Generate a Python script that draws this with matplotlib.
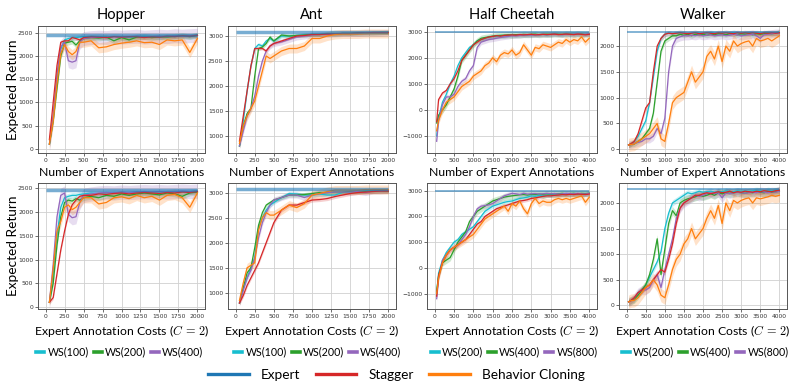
import matplotlib
matplotlib.use("Agg")
import matplotlib.pyplot as plt
from matplotlib.lines import Line2D
import numpy as np

# ---------------- data ----------------
x_short = [50, 100, 150, 200, 250, 300, 350, 400, 450, 500, 600, 700, 800, 900,
           1000, 1100, 1200, 1300, 1400, 1500, 1600, 1700, 1800, 1900, 2000]
x_long = [50] + list(range(100, 4001, 100))

expert_hopper = 2460
expert_ant = 3080
expert_cheetah = 3000
expert_walker = 2265

# Hopper, number of annotations
hop_a_ws1 = [100, 700, 1500, 2150, 2350, 2380, 2400, 2400, 2410, 2420, 2410, 2420, 2400, 2420, 2410, 2400, 2420, 2430, 2420, 2410, 2430, 2420, 2440, 2430, 2450]
hop_a_ws2 = [100, 600, 1300, 2000, 2280, 2300, 2320, 2240, 2330, 2380, 2400, 2390, 2410, 2330, 2400, 2350, 2410, 2420, 2400, 2420, 2410, 2430, 2440, 2420, 2450]
hop_a_ws3 = [100, 700, 1600, 2200, 2300, 1900, 1870, 1900, 2300, 2380, 2400, 2410, 2400, 2420, 2410, 2420, 2430, 2410, 2420, 2430, 2420, 2440, 2430, 2440, 2450]
hop_a_stag = [200, 1000, 1800, 2300, 2330, 2330, 2400, 2380, 2350, 2400, 2420, 2410, 2400, 2420, 2410, 2420, 2420, 2400, 2420, 2410, 2430, 2420, 2440, 2430, 2450]
hop_a_bc = [100, 600, 1400, 2050, 2250, 2100, 2030, 2100, 2300, 2300, 2330, 2180, 2200, 2250, 2280, 2300, 2330, 2290, 2300, 2250, 2350, 2330, 2350, 2080, 2380]

# Hopper, annotation costs
hop_b_ws1 = [100, 700, 1500, 2100, 2300, 2330, 2350, 2350, 2370, 2380, 2400, 2390, 2400, 2410, 2400, 2410, 2420, 2400, 2410, 2420, 2410, 2430, 2420, 2430, 2440]
hop_b_ws2 = [100, 500, 1300, 1900, 2200, 2250, 2230, 2280, 2250, 2300, 2330, 2300, 2350, 2330, 2380, 2350, 2380, 2400, 2380, 2360, 2400, 2380, 2330, 2400, 2420]
hop_b_ws3 = [100, 900, 1900, 2350, 2400, 1950, 1880, 1900, 2200, 2350, 2380, 2400, 2410, 2400, 2420, 2410, 2420, 2430, 2420, 2430, 2420, 2430, 2440, 2430, 2440]
hop_b_stag = [100, 200, 700, 1200, 1600, 1950, 2150, 2250, 2330, 2350, 2350, 2380, 2370, 2390, 2400, 2380, 2400, 2410, 2400, 2390, 2410, 2400, 2420, 2410, 2430]
hop_b_bc = [100, 800, 1600, 1800, 2100, 2150, 2050, 2100, 2200, 2300, 2300, 2170, 2200, 2300, 2320, 2280, 2350, 2300, 2330, 2250, 2350, 2370, 2300, 2100, 2400]

# Ant
ant_a_ws1 = [800, 1300, 1900, 2400, 2750, 2830, 2800, 2900, 2950, 2900, 3000, 3000, 3010, 3020, 3030, 3030, 3040, 3040, 3050, 3050, 3050, 3060, 3060, 3060, 3070]
ant_a_ws2 = [800, 1200, 1450, 1550, 2200, 2750, 2780, 2850, 2980, 2900, 3020, 3000, 3010, 3020, 3030, 3030, 3040, 3040, 3050, 3050, 3060, 3060, 3060, 3070, 3070]
ant_a_ws3 = [800, 1100, 1400, 1550, 1800, 2200, 2500, 2700, 2800, 2850, 2880, 2930, 2980, 3000, 3020, 3030, 3030, 3040, 3050, 3050, 3050, 3060, 3060, 3060, 3070]
ant_a_stag = [900, 1400, 1900, 2400, 2750, 2750, 2750, 2700, 2800, 2850, 2900, 2950, 3000, 3010, 3030, 3030, 3040, 3040, 3050, 3050, 3060, 3060, 3070, 3070, 3070]
ant_a_bc = [850, 1200, 1400, 1550, 1700, 2000, 2300, 2600, 2550, 2600, 2700, 2750, 2750, 2800, 2950, 2950, 3000, 3030, 3040, 3040, 3040, 3050, 3050, 3050, 3050]

ant_b_ws1 = [800, 1100, 1300, 1500, 1700, 2300, 2500, 2650, 2750, 2800, 2900, 2980, 2970, 2950, 2950, 2970, 2950, 2950, 3000, 3010, 3020, 3030, 3030, 3040, 3040]
ant_b_ws2 = [800, 1100, 1400, 1500, 1900, 2350, 2600, 2750, 2800, 2850, 2900, 2950, 2950, 2960, 2980, 3000, 3000, 3010, 3010, 3020, 3020, 3020, 3030, 3030, 3030]
ant_b_ws3 = [800, 1050, 1300, 1450, 1700, 2100, 2400, 2600, 2750, 2850, 2900, 2950, 2950, 2900, 2950, 2980, 3000, 3010, 3010, 3010, 3020, 3000, 3030, 3030, 3040]
ant_b_stag = [800, 950, 1150, 1300, 1450, 1600, 1800, 2000, 2200, 2400, 2650, 2750, 2750, 2800, 2850, 2860, 2880, 2920, 2950, 2980, 3000, 3010, 3020, 3030, 3030]
ant_b_bc = [850, 1200, 1500, 1550, 1600, 2250, 2500, 2600, 2550, 2550, 2650, 2750, 2700, 2780, 2950, 2980, 3020, 3050, 3050, 3050, 3050, 3060, 3060, 3060, 3060]

# Half Cheetah
hc_a_ws1 = [-1000, -300, 300, 600, 1000, 1300, 1700, 2000, 2200, 2400, 2500, 2650, 2700, 2750, 2800, 2820, 2830, 2850, 2840, 2860, 2870, 2860, 2880, 2870, 2880, 2890, 2880, 2890, 2900, 2880, 2900, 2910, 2900, 2890, 2910, 2900, 2920, 2900, 2910, 2900, 2920]
hc_a_ws2 = [-500, -200, 0, 200, 500, 800, 1300, 1900, 2100, 2300, 2500, 2650, 2750, 2780, 2800, 2830, 2850, 2860, 2870, 2880, 2870, 2890, 2880, 2900, 2890, 2900, 2910, 2890, 2900, 2910, 2900, 2920, 2910, 2900, 2920, 2910, 2900, 2920, 2910, 2900, 2920]
hc_a_ws3 = [-1200, -400, 200, 500, 500, 600, 900, 1100, 1200, 1500, 1700, 2400, 2600, 2650, 2700, 2720, 2750, 2780, 2800, 2820, 2850, 2840, 2860, 2870, 2880, 2870, 2890, 2880, 2900, 2890, 2900, 2910, 2900, 2890, 2910, 2900, 2910, 2920, 2900, 2910, 2920]
hc_a_stag = [-450, 400, 650, 750, 1000, 1200, 1500, 1900, 2100, 2300, 2500, 2600, 2700, 2750, 2800, 2820, 2850, 2830, 2860, 2870, 2880, 2870, 2890, 2880, 2890, 2900, 2880, 2890, 2900, 2890, 2900, 2910, 2890, 2900, 2910, 2900, 2890, 2910, 2900, 2880, 2900]
hc_a_bc = [-800, -400, 0, 300, 400, 500, 700, 900, 1000, 1100, 1300, 1400, 1500, 1700, 1800, 2000, 1850, 2100, 2200, 2150, 2300, 2100, 2200, 2500, 2300, 2100, 2400, 2350, 2500, 2450, 2400, 2500, 2600, 2550, 2700, 2600, 2700, 2650, 2800, 2600, 2750]

hc_b_ws1 = [-1000, -200, 300, 600, 800, 1000, 1100, 1300, 1400, 1500, 1600, 1800, 2000, 2200, 2300, 2400, 2450, 2500, 2550, 2580, 2600, 2650, 2700, 2720, 2750, 2800, 2780, 2820, 2800, 2830, 2850, 2840, 2860, 2850, 2870, 2860, 2880, 2870, 2850, 2880, 2900]
hc_b_ws2 = [-900, -300, 200, 300, 400, 700, 1000, 1200, 1400, 1800, 2000, 2200, 2300, 2400, 2500, 2600, 2650, 2700, 2750, 2780, 2800, 2820, 2840, 2850, 2830, 2860, 2850, 2870, 2860, 2880, 2870, 2890, 2880, 2900, 2880, 2890, 2900, 2880, 2900, 2890, 2900]
hc_b_ws3 = [-1200, -400, 300, 500, 700, 800, 900, 1100, 1300, 1600, 2000, 2300, 2400, 2420, 2450, 2500, 2600, 2700, 2800, 2850, 2900, 2880, 2850, 2900, 2870, 2880, 2890, 2870, 2880, 2900, 2880, 2890, 2870, 2880, 2900, 2890, 2880, 2900, 2880, 2870, 2900]
hc_b_stag = [-1100, -300, 200, 500, 700, 800, 900, 1000, 1100, 1300, 1500, 1700, 1800, 2000, 2100, 2200, 2300, 2350, 2400, 2450, 2500, 2550, 2600, 2620, 2650, 2700, 2720, 2750, 2780, 2800, 2800, 2820, 2830, 2850, 2840, 2860, 2850, 2870, 2860, 2850, 2870]
hc_b_bc = [-1000, -400, 200, 500, 700, 800, 900, 1000, 1100, 1200, 1300, 1500, 1700, 1900, 2000, 2100, 2200, 2300, 2400, 2200, 2500, 2400, 2600, 2300, 2100, 2500, 2700, 2500, 2600, 2550, 2550, 2650, 2700, 2650, 2700, 2650, 2700, 2750, 2800, 2550, 2750]

# Walker
wk_a_ws1 = [80, 90, 150, 250, 400, 550, 900, 1400, 1900, 2150, 2230, 2250, 2240, 2250, 2260, 2250, 2240, 2250, 2260, 2250, 2240, 2250, 2260, 2250, 2240, 2250, 2260, 2250, 2260, 2250, 2240, 2250, 2260, 2250, 2260, 2250, 2250, 2260, 2250, 2260, 2270]
wk_a_ws2 = [80, 90, 100, 150, 200, 300, 400, 700, 1300, 1900, 2100, 2150, 2200, 2200, 2230, 2210, 2230, 2200, 2230, 2220, 2230, 2210, 2230, 2220, 2240, 2230, 2220, 2240, 2230, 2220, 2240, 2230, 2240, 2220, 2240, 2230, 2240, 2250, 2240, 2250, 2250]
wk_a_ws3 = [80, 90, 110, 130, 150, 200, 200, 250, 400, 300, 600, 1500, 2000, 2150, 2180, 2200, 2200, 2210, 2200, 2220, 2200, 2210, 2220, 2200, 2210, 2220, 2200, 2210, 2230, 2220, 2200, 2210, 2220, 2230, 2200, 2150, 2220, 2230, 2240, 2250, 2250]
wk_a_stag = [80, 100, 150, 300, 550, 800, 900, 1500, 2000, 2150, 2230, 2250, 2240, 2250, 2260, 2250, 2240, 2250, 2260, 2240, 2250, 2260, 2250, 2240, 2260, 2250, 2260, 2250, 2240, 2260, 2250, 2260, 2250, 2260, 2250, 2240, 2260, 2250, 2260, 2250, 2260]
wk_a_bc = [80, 90, 100, 150, 200, 250, 300, 400, 500, 200, 150, 500, 900, 1000, 1050, 1100, 1300, 1500, 1300, 1400, 1500, 1800, 1900, 1750, 2000, 1700, 2000, 1900, 2100, 2000, 2050, 2080, 2100, 2000, 2150, 2100, 2120, 2150, 2100, 2150, 2200]

wk_b_ws1 = [70, 90, 120, 250, 300, 400, 550, 700, 850, 1050, 1500, 1800, 2000, 2050, 2100, 2150, 2200, 2180, 2200, 2230, 2210, 2220, 2230, 2210, 2230, 2220, 2240, 2230, 2220, 2240, 2230, 2240, 2230, 2240, 2250, 2240, 2230, 2250, 2240, 2250, 2250]
wk_b_ws2 = [70, 90, 120, 200, 300, 400, 600, 900, 1300, 600, 1100, 1600, 1850, 1750, 2000, 2050, 2080, 2100, 2120, 2150, 2130, 2150, 2180, 2150, 2200, 2180, 2200, 2190, 2200, 2210, 2200, 2190, 2210, 2200, 2220, 2210, 2200, 2220, 2210, 2220, 2230]
wk_b_ws3 = [70, 80, 150, 250, 300, 300, 350, 500, 600, 350, 700, 1000, 1300, 1700, 1900, 2000, 2050, 2100, 2150, 2130, 2150, 2180, 2200, 2180, 2200, 2100, 2200, 2180, 2200, 2210, 2200, 2190, 2200, 2210, 2200, 2220, 2210, 2200, 2220, 2210, 2230]
wk_b_stag = [70, 90, 150, 250, 300, 350, 400, 500, 600, 700, 650, 900, 1200, 1600, 1900, 2000, 2050, 2100, 2150, 2150, 2180, 2200, 2180, 2200, 2220, 2200, 2210, 2230, 2200, 2220, 2210, 2230, 2220, 2210, 2230, 2220, 2240, 2230, 2220, 2240, 2250]
wk_b_bc = [70, 90, 100, 150, 250, 350, 400, 500, 400, 200, 150, 400, 700, 900, 1000, 1200, 1300, 1500, 1300, 1400, 1500, 1700, 1850, 1700, 1950, 1600, 2000, 1850, 2050, 2000, 2050, 2080, 2100, 2000, 2100, 2080, 2100, 2120, 2150, 2130, 2150]

titles = ["Hopper", "Ant", "Half Cheetah", "Walker"]
ws_labels_a = ["WS(100)", "WS(200)", "WS(400)"]
ws_labels_b = ["WS(200)", "WS(400)", "WS(800)"]
main_labels = ["Expert", "Stagger", "Behavior Cloning"]

# ---------------- style ----------------
plt.rcParams['font.family'] = ['Lato', 'DejaVu Sans']
plt.rcParams['mathtext.fontset'] = 'cm'

C_WS = ['#17becf', '#2ca02c', '#9467bd']
C_STAG = '#d62728'
C_BC = '#ff7f0e'
C_EXP = '#1f77b4'

fig = plt.figure(figsize=(7.93, 3.87), dpi=100)
W, H = 793.0, 387.0

cols = [(38, 205), (228, 396), (427, 597), (619, 787)]
rows = [(26, 153), (183, 309)]
legend_centers = [120, 318, 514, 705]

panels = [
    (0, 0, x_short, [hop_a_ws1, hop_a_ws2, hop_a_ws3], hop_a_stag, hop_a_bc, expert_hopper,
     (-100, 2100), (-90, 2650), np.arange(0, 2001, 250), np.arange(0, 2501, 500), [60, 60, 150, 40, 110], 2.5),
    (0, 1, x_short, [ant_a_ws1, ant_a_ws2, ant_a_ws3], ant_a_stag, ant_a_bc, expert_ant,
     (-100, 2100), (660, 3200), np.arange(0, 2001, 250), np.arange(1000, 3001, 500), [40, 40, 60, 30, 90], 2.5),
    (0, 2, x_long, [hc_a_ws1, hc_a_ws2, hc_a_ws3], hc_a_stag, hc_a_bc, expert_cheetah,
     (-200, 4200), (-1650, 3220), np.arange(0, 4001, 500), np.arange(-1000, 3001, 1000), [80, 120, 100, 60, 140], 1.3),
    (0, 3, x_long, [wk_a_ws1, wk_a_ws2, wk_a_ws3], wk_a_stag, wk_a_bc, expert_walker,
     (-200, 4200), (-75, 2390), np.arange(0, 4001, 500), np.arange(0, 2001, 500), [50, 50, 80, 50, 130], 1.3),
    (1, 0, x_short, [hop_b_ws1, hop_b_ws2, hop_b_ws3], hop_b_stag, hop_b_bc, expert_hopper,
     (-100, 2100), (-40, 2610), np.arange(0, 2001, 250), np.arange(0, 2501, 500), [60, 60, 150, 40, 110], 2.5),
    (1, 1, x_short, [ant_b_ws1, ant_b_ws2, ant_b_ws3], ant_b_stag, ant_b_bc, expert_ant,
     (-100, 2100), (680, 3190), np.arange(0, 2001, 250), np.arange(1000, 3001, 500), [40, 40, 60, 40, 90], 2.5),
    (1, 2, x_long, [hc_b_ws1, hc_b_ws2, hc_b_ws3], hc_b_stag, hc_b_bc, expert_cheetah,
     (-200, 4200), (-1600, 3300), np.arange(0, 4001, 500), np.arange(-1000, 3001, 1000), [90, 130, 100, 70, 140], 1.3),
    (1, 3, x_long, [wk_b_ws1, wk_b_ws2, wk_b_ws3], wk_b_stag, wk_b_bc, expert_walker,
     (-200, 4200), (-70, 2390), np.arange(0, 4001, 500), np.arange(0, 2001, 500), [60, 80, 90, 60, 130], 1.3),
]

axes = {}
for (r, c, xs, wss, stag, bc, exp, xlim, ylim, xt, yt, bands, explw) in panels:
    x0, x1 = cols[c]
    t, b = rows[r]
    ax = fig.add_axes([x0 / W, 1 - b / H, (x1 - x0) / W, (b - t) / H])
    axes[(r, c)] = ax
    xs = np.array(xs)
    series = list(zip(wss, C_WS)) + [(stag, C_STAG), (bc, C_BC)]
    for (ys, col), bw in zip(series, bands):
        ys = np.array(ys, dtype=float)
        ax.fill_between(xs, ys - bw, ys + bw, color=col, alpha=0.22, lw=0)
        ax.plot(xs, ys, color=col, lw=0.9)
    ax.plot([0, xs[-1]], [exp, exp], color=C_EXP, alpha=0.6, lw=explw, solid_capstyle='butt')
    ax.set_xlim(*xlim)
    ax.set_ylim(*ylim)
    ax.set_xticks(xt)
    ax.set_yticks(yt)
    ax.grid(True, color='#d0d0d0', lw=0.6)
    ax.set_axisbelow(True)
    ax.tick_params(labelsize=4.3, length=2, width=0.5, pad=1.5, colors='#333333')
    for lab in ax.get_xticklabels() + ax.get_yticklabels():
        lab.set_family('DejaVu Sans')
    for s in ax.spines.values():
        s.set_color('#555555')
        s.set_linewidth(0.7)
    if r == 0:
        ax.set_title(titles[c], fontsize=10.5, pad=5)
        ax.set_xlabel("Number of Expert Annotations", fontsize=8.8, labelpad=3)
    else:
        ax.set_xlabel(r"Expert Annotation Costs ($C\,=\,2$)", fontsize=8.8, labelpad=3)
    if c == 0:
        ax.set_ylabel("Expected Return", fontsize=9.8)
        ax.yaxis.set_label_coords((19 - x0) / (x1 - x0), 0.5)

# WS legends under each column
for c in range(4):
    labs = ws_labels_a if c < 2 else ws_labels_b
    handles = [Line2D([0], [0], color=col, lw=2.6) for col in C_WS]
    fig.legend(handles, labs, loc='center', bbox_to_anchor=(legend_centers[c] / W, 1 - 352 / H), ncol=3,
               frameon=False, fontsize=7.7, handlelength=0.75, handletextpad=0.3,
               columnspacing=0.45, borderaxespad=0, borderpad=0)

# main legend
handles = [Line2D([0], [0], color=C_EXP, lw=2.4), Line2D([0], [0], color=C_STAG, lw=2.4),
           Line2D([0], [0], color=C_BC, lw=2.4)]
fig.legend(handles, main_labels, loc='center', bbox_to_anchor=(0.5, 1 - 375 / H), ncol=3,
           frameon=False, fontsize=9.8, handlelength=3.0, handletextpad=0.9,
           columnspacing=1.1, borderaxespad=0, borderpad=0)

fig.savefig("out.png", dpi=100)
